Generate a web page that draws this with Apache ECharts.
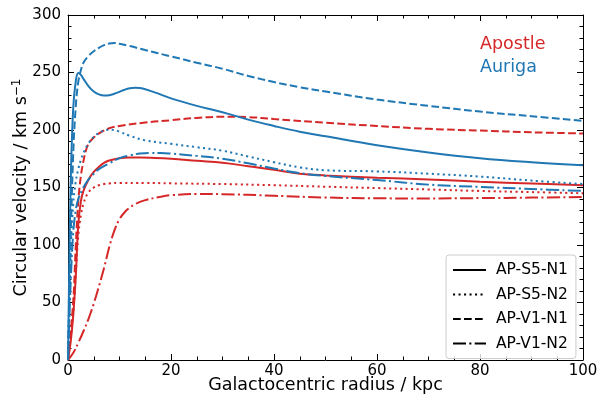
<!DOCTYPE html>
<html>
<head>
<meta charset="utf-8">
<script src="https://cdn.jsdelivr.net/npm/echarts@6/dist/echarts.min.js"></script>
<style>
  html, body { margin: 0; padding: 0; background: #fff; }
  #chart { width: 599px; height: 402px; }
</style>
</head>
<body>
<div id="chart"></div>
<script>
// Rotation curves: radius (kpc) and circular velocity (km/s) for each run.

// Apostle runs
const apS5N1_r = [0, 0.5, 1, 1.5, 2, 2.5, 3, 4, 5, 6, 7, 8, 10, 12, 14, 16, 20, 25, 30, 35, 40, 45, 50, 60, 70, 80, 90, 100];
const apS5N1_v = [0, 15, 38, 72, 118, 138, 147, 157, 163.5, 168, 171.5, 173.5, 175.5, 176, 176, 175.8, 175, 173.2, 171.5, 168.5, 165.5, 162, 160.5, 158.5, 157, 155, 153.5, 152];

const apS5N2_r = [0, 1, 1.5, 2, 2.5, 3, 3.5, 4, 5, 6, 7, 8, 10, 15, 20, 30, 40, 50, 60, 70, 80, 90, 100];
const apS5N2_v = [0, 40, 75, 108, 126, 136, 142, 146, 150, 152, 153, 153.5, 154, 154, 153.6, 153, 152, 150.7, 149.5, 148.3, 147, 146, 145];

const apV1N1_r = [0, 1, 1.5, 2, 2.5, 3, 3.5, 4, 5, 6, 8, 10, 15, 20, 25, 30, 35, 40, 50, 60, 70, 80, 90, 100];
const apV1N1_v = [0, 50, 98, 138, 160, 173, 182.5, 188, 193.5, 197, 201.5, 203.5, 206.5, 208.5, 210.5, 211.5, 211.2, 209.5, 206.3, 203.5, 201, 199.5, 198, 197];

const apV1N2_r = [0, 1, 2, 3, 4, 5, 6, 7, 8, 9, 10, 11, 12, 13, 15, 18, 20, 25, 30, 40, 50, 60, 70, 80, 90, 100];
const apV1N2_v = [0, 6, 15, 25, 36, 49, 64, 80, 98, 112.5, 122.5, 128.5, 132.5, 135.5, 139, 142, 143.3, 144.3, 144.2, 142.8, 141.3, 140.6, 140.5, 140.8, 141.2, 141.8];

// Auriga runs
const auS5N1_r = [0, 0.5, 1, 1.5, 2, 2.5, 3, 4, 5, 6, 7, 8, 9, 10, 11, 12, 13, 14, 15, 17, 20, 25, 30, 35, 40, 45, 50, 60, 70, 80, 90, 100];
const auS5N1_v = [0, 150, 218, 242, 249.5, 248, 244.5, 238, 233.5, 231, 230, 230.3, 231.5, 233.2, 235, 236.3, 236.8, 236.5, 235.5, 232.5, 227.5, 221, 215.5, 209, 203.5, 198.5, 194.5, 186.8, 180.5, 175.5, 172, 169.3];

const auS5N2_r = [0, 0.5, 1, 1.5, 2, 2.5, 3, 4, 5, 6, 7, 8, 9, 10, 12, 15, 20, 25, 30, 35, 40, 45, 50, 60, 70, 80, 90, 100];
const auS5N2_v = [0, 90, 135, 155, 166, 174, 180, 188.5, 194, 197.5, 199.5, 200.3, 200, 198.5, 195, 191, 188, 185, 182, 177, 172, 167.5, 165, 164, 162, 159.5, 156, 153];

const auV1N1_r = [0, 0.5, 1, 1.5, 2, 2.5, 3, 4, 5, 6, 7, 8, 9, 10, 12, 15, 20, 25, 30, 35, 40, 45, 50, 60, 70, 80, 90, 100];
const auV1N1_v = [0, 100, 178, 220, 242, 252, 258.5, 264.5, 268.5, 271.5, 273.8, 275.2, 275.6, 275, 273, 269.5, 264, 258.5, 253.3, 247, 241.7, 237.2, 233.5, 226.5, 221, 216, 212, 208];

const auV1N2_r = [0, 0.5, 1, 1.5, 2, 3, 4, 5, 6, 8, 10, 12, 14, 16, 18, 20, 25, 30, 35, 40, 45, 50, 60, 70, 80, 90, 100];
const auV1N2_v = [0, 65, 110, 130, 140, 150, 157, 162, 166, 171, 175.5, 178, 179.5, 180, 180, 179.5, 177.5, 175, 171, 166.5, 162.5, 160, 156.5, 152.5, 150.5, 148.7, 147];

const runNames = ['AP-S5-N1', 'AP-S5-N2', 'AP-V1-N1', 'AP-V1-N2'];
const xTicks = [0, 20, 40, 60, 80, 100];
const yTicks = [0, 50, 100, 150, 200, 250, 300];

const RED = '#d62728';
const BLUE = '#1f77b4';
const FONT = 'DejaVu Sans';

// Line patterns, one per run name
const dashFor = {
  'AP-S5-N1': 'solid',
  'AP-S5-N2': [2.1, 3.4],
  'AP-V1-N1': [7.7, 3.3],
  'AP-V1-N2': [13, 3.3, 2.1, 3.3]
};

function zip(r, v) { return r.map((x, i) => [x, v[i]]); }

function curve(name, color, r, v) {
  return {
    name: name,
    type: 'line',
    data: zip(r, v),
    symbol: 'none',
    smooth: 0.4,
    lineStyle: { color: color, width: 2, type: dashFor[name], cap: 'butt' },
    itemStyle: { color: color },
    emphasis: { disabled: true },
    animation: false
  };
}

const series = [
  curve('AP-S5-N1', RED, apS5N1_r, apS5N1_v),
  curve('AP-S5-N2', RED, apS5N2_r, apS5N2_v),
  curve('AP-V1-N1', RED, apV1N1_r, apV1N1_v),
  curve('AP-V1-N2', RED, apV1N2_r, apV1N2_v),
  curve('AP-S5-N1', BLUE, auS5N1_r, auS5N1_v),
  curve('AP-S5-N2', BLUE, auS5N2_r, auS5N2_v),
  curve('AP-V1-N1', BLUE, auV1N1_r, auV1N1_v),
  curve('AP-V1-N2', BLUE, auV1N2_r, auV1N2_v)
];

const xMin = xTicks[0], xMax = xTicks[xTicks.length - 1];
const yMin = yTicks[0], yMax = yTicks[yTicks.length - 1];
const xStep = xTicks[1] - xTicks[0];
const yStep = yTicks[1] - yTicks[0];

const frameLine = { show: true, onZero: false, lineStyle: { color: '#000', width: 1 } };
const majorTick = { show: true, inside: true, length: 6, lineStyle: { color: '#000', width: 1 } };

function xAxisDef(pos, showLabel, withName) {
  return {
    type: 'value', position: pos, min: xMin, max: xMax, interval: xStep,
    axisLine: frameLine, axisTick: majorTick,
    minorTick: { show: true, splitNumber: 4, length: 3.5, lineStyle: { color: '#000', width: 1 } },
    splitLine: { show: false },
    axisLabel: { show: showLabel, margin: 4, color: '#000', fontFamily: FONT, fontSize: 15 },
    name: withName ? 'Galactocentric radius / kpc' : '',
    nameLocation: 'middle', nameGap: 16, nameMoveOverlap: false,
    nameTextStyle: { color: '#000', fontFamily: FONT, fontSize: 17.5, verticalAlign: 'top' }
  };
}

function yAxisDef(pos, showLabel, withName) {
  return {
    type: 'value', position: pos, min: yMin, max: yMax, interval: yStep,
    axisLine: frameLine, axisTick: majorTick,
    minorTick: { show: true, splitNumber: 5, length: 3.5, lineStyle: { color: '#000', width: 1 } },
    splitLine: { show: false },
    axisLabel: { show: showLabel, margin: 7, color: '#000', fontFamily: FONT, fontSize: 15 },
    name: withName ? 'Circular velocity / km s{sup|−1}' : '',
    nameLocation: 'middle', nameGap: 36, nameRotate: 90, nameMoveOverlap: false,
    nameTextStyle: {
      color: '#000', fontFamily: FONT, fontSize: 17.5,
      rich: { sup: { fontFamily: FONT, fontSize: 12, color: '#000', verticalAlign: 'top', padding: [0, 0, 9, 0] } }
    }
  };
}

const chart = echarts.init(document.getElementById('chart'), null, { renderer: 'canvas' });
chart.setOption({
  animation: false,
  backgroundColor: '#fff',
  grid: { left: 68, right: 16, top: 15, bottom: 42, containLabel: false, outerBoundsMode: 'none' },
  xAxis: [xAxisDef('bottom', true, true), xAxisDef('top', false, false)],
  yAxis: [yAxisDef('left', true, true), yAxisDef('right', false, false)],
  legend: {
    data: runNames,
    orient: 'vertical',
    left: 446, top: 255,
    padding: [7, 8, 7, 6],
    itemGap: 8.5,
    itemWidth: 33, itemHeight: 14,
    backgroundColor: 'rgba(255,255,255,0.8)',
    borderColor: '#cccccc', borderWidth: 1, borderRadius: 3,
    selectedMode: false,
    lineStyle: { color: '#000', width: 2 },
    itemStyle: { color: 'rgba(0,0,0,0)', borderColor: 'rgba(0,0,0,0)', borderWidth: 0 },
    textStyle: { color: '#000', fontFamily: FONT, fontSize: 15.5, padding: [0, 0, 0, 5] }
  },
  graphic: [
    { type: 'text', left: 480, top: 35, style: { text: 'Apostle', fill: RED, font: '17.5px "DejaVu Sans"' } },
    { type: 'text', left: 480, top: 58, style: { text: 'Auriga', fill: BLUE, font: '17.5px "DejaVu Sans"' } }
  ],
  series: series
});
</script>
</body>
</html>
